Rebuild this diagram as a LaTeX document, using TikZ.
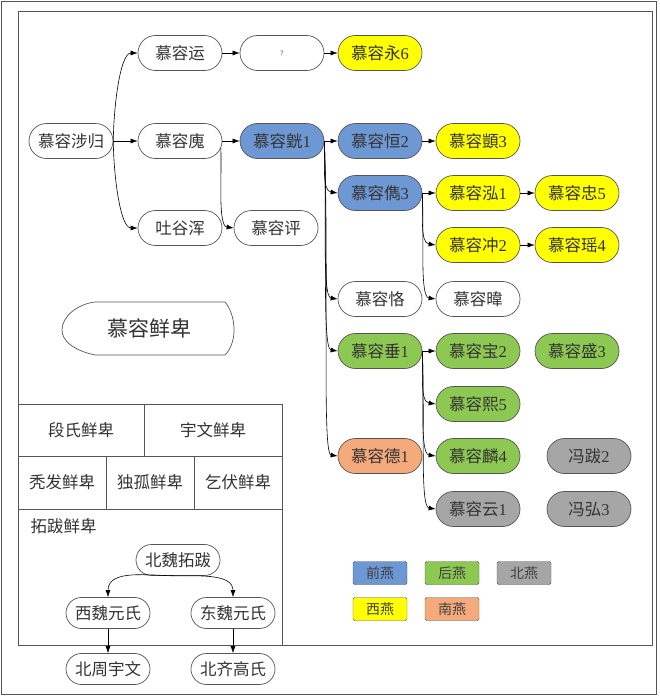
\documentclass[tikz,border=0pt]{standalone}
\usepackage{fontspec}
\setmainfont{Liberation Serif}
\newfontfamily\cjk{Noto Sans CJK SC}
\usetikzlibrary{shapes.misc,arrows.meta}
\definecolor{qianyan}{RGB}{110,152,212}
\definecolor{houyan}{RGB}{140,200,82}
\definecolor{beiyan}{RGB}{166,166,166}
\definecolor{xiyan}{RGB}{255,255,0}
\definecolor{nanyan}{RGB}{244,170,122}
\definecolor{bianxian}{RGB}{85,85,85}
\tikzset{
	ren/.style={rounded rectangle,draw=bianxian,line width=0.7pt,minimum width=88pt,minimum height=35pt,inner sep=2pt,text=black!80,font=\cjk\fontsize{16.5}{18}\selectfont},
	xiao/.style={ren,minimum height=31pt},
	biao/.style={text=black!80,font=\cjk\fontsize{16.5}{18}\selectfont},
	tuli/.style={draw=bianxian,rounded corners=1.5pt,minimum width=54pt,minimum height=23pt,inner sep=0pt,text=black!75,font=\cjk\fontsize{14}{16}\selectfont},
	jian/.style={-{Latex[length=7pt,width=5pt]},line width=0.6pt},
	gou/.style={jian,out=-88,in=172,out distance=#1,in distance=16pt}
}
\begin{document}
\begin{tikzpicture}[x=1pt,y=1pt]
				\useasboundingbox (0,0) rectangle (660,-696);
				\draw[bianxian,line width=0.8pt] (1.5,-1.5) rectangle (656,-694);
				\draw[bianxian,line width=0.8pt] (18,-11) rectangle (652,-645);
				\node[ren] (yun) at (180,-53) {慕容运};
				\node[ren,font=\rmfamily\fontsize{7}{8}\selectfont] (wenhao) at (282,-53) {?};
				\node[ren,fill=xiyan] (yong) at (380,-53) {慕容永{\rmfamily 6}};
				\node[ren] (shegui) at (71,-141) {慕容涉归};
				\node[ren] (wei) at (180,-141) {慕容廆};
				\node[ren,fill=qianyan] (huang) at (282,-141) {慕容皝{\rmfamily 1}};
				\node[ren,fill=qianyan] (heng) at (380,-141) {慕容恒{\rmfamily 2}};
				\node[ren,fill=xiyan] (yi) at (478,-141) {慕容顗{\rmfamily 3}};
				\node[ren] (tuyuhun) at (180,-228) {吐谷浑};
				\node[ren] (ping) at (276,-228) {慕容评};
				\node[ren,fill=qianyan] (jun) at (380,-193) {慕容儁{\rmfamily 3}};
				\node[ren,fill=xiyan] (hong) at (478,-193) {慕容泓{\rmfamily 1}};
				\node[ren,fill=xiyan] (zhong) at (577,-193) {慕容忠{\rmfamily 5}};
				\node[ren,fill=xiyan] (chong) at (478,-245) {慕容冲{\rmfamily 2}};
				\node[ren,fill=xiyan] (yao) at (577,-245) {慕容瑶{\rmfamily 4}};
				\node[ren] (ke) at (380,-299) {慕容恪};
				\node[ren] (wei2) at (478,-299) {慕容暐};
				\node[ren,fill=houyan] (chui) at (380,-351) {慕容垂{\rmfamily 1}};
				\node[ren,fill=houyan] (bao) at (478,-351) {慕容宝{\rmfamily 2}};
				\node[ren,fill=houyan] (sheng) at (577,-351) {慕容盛{\rmfamily 3}};
				\node[ren,fill=houyan] (xi) at (478,-404) {慕容熙{\rmfamily 5}};
				\node[ren,fill=nanyan] (de) at (380,-456) {慕容德{\rmfamily 1}};
				\node[ren,fill=houyan] (lin) at (478,-456) {慕容麟{\rmfamily 4}};
				\node[ren,fill=beiyan] (fengba) at (589,-456) {冯跋{\rmfamily 2}};
				\node[ren,fill=beiyan] (yun1) at (478,-509) {慕容云{\rmfamily 1}};
				\node[ren,fill=beiyan] (fenghong) at (589,-509) {冯弘{\rmfamily 3}};
				\draw[jian] (shegui.east) to[out=90,in=180,out distance=30pt,in distance=18pt] (yun.west);
				\draw[jian] (shegui.east) -- (wei.west);
				\draw[jian] (shegui.east) to[out=-90,in=180,out distance=30pt,in distance=18pt] (tuyuhun.west);
				\draw[jian] (yun.east) -- (wenhao.west);
				\draw[jian] (wenhao.east) -- (yong.west);
				\draw[jian] (wei.east) -- (huang.west);
				\draw[gou=30pt] (wei.-10) to (ping.west);
				\draw[jian] (huang.east) -- (heng.west);
				\draw[jian] (heng.east) -- (yi.west);
				\draw[gou=22pt] (huang.east) to (jun.west);
				\draw[gou=70pt] (huang.east) to (ke.west);
				\draw[gou=90pt] (huang.east) to (chui.west);
				\draw[gou=140pt] (huang.east) to (de.west);
				\draw[jian] (jun.east) -- (hong.west);
				\draw[jian] (hong.east) -- (zhong.west);
				\draw[gou=22pt] (jun.east) to (chong.west);
				\draw[gou=50pt] (jun.east) to (wei2.west);
				\draw[jian] (chong.east) -- (yao.west);
				\draw[jian] (chui.east) -- (bao.west);
				\draw[gou=22pt] (chui.east) to (xi.west);
				\draw[gou=50pt] (chui.east) to (lin.west);
				\draw[gou=75pt] (chui.east) to (yun1.west);
				\draw[bianxian,line width=0.7pt] (95,-302) -- (225,-302) .. controls (236,-315) and (238,-342) .. (225,-355) -- (95,-355) .. controls (72,-350) and (62,-340) .. (62,-330) .. controls (62,-316) and (78,-304) .. (95,-302) -- cycle;
				\node[biao,font=\cjk\fontsize{21}{24}\selectfont] (xianbei) at (149,-328) {慕容鲜卑};
				\draw[bianxian,line width=0.7pt] (18,-404) -- (282,-404) -- (282,-645);
				\draw[bianxian,line width=0.7pt] (18,-456) -- (282,-456);
				\draw[bianxian,line width=0.7pt] (18,-509) -- (282,-509);
				\draw[bianxian,line width=0.7pt] (144,-404) -- (144,-456);
				\draw[bianxian,line width=0.7pt] (106,-456) -- (106,-509);
				\draw[bianxian,line width=0.7pt] (194,-456) -- (194,-509);
				\node[biao] (duanshi) at (81,-430) {段氏鲜卑};
				\node[biao] (yuwen) at (213,-430) {宇文鲜卑};
				\node[biao] (tufa) at (62,-482) {秃发鲜卑};
				\node[biao] (dugu) at (150,-482) {独孤鲜卑};
				\node[biao] (qifu) at (238,-482) {乞伏鲜卑};
				\node[biao,anchor=west] (tuoba) at (27,-526) {拓跋鲜卑};
				\node[xiao] (beiwei) at (178,-560) {北魏拓跋};
				\node[xiao] (xiwei) at (108,-613) {西魏元氏};
				\node[xiao] (dongwei) at (233,-613) {东魏元氏};
				\node[xiao] (beizhou) at (108,-669) {北周宇文};
				\node[xiao] (beiqi) at (233,-669) {北齐高氏};
				\draw[jian] (beiwei.south) to[out=180,in=90] (xiwei.north);
				\draw[jian] (beiwei.south) to[out=0,in=90] (dongwei.north);
				\draw[jian] (xiwei.south) -- (beizhou.north);
				\draw[jian] (dongwei.south) -- (beiqi.north);
				\node[tuli,fill=qianyan] (qianyanli) at (380,-573) {前燕};
				\node[tuli,fill=houyan] (houyanli) at (452,-573) {后燕};
				\node[tuli,fill=beiyan] (beiyanli) at (524,-573) {北燕};
				\node[tuli,fill=xiyan] (xiyanli) at (380,-609) {西燕};
				\node[tuli,fill=nanyan] (nanyanli) at (452,-609) {南燕};
			\end{tikzpicture}
\end{document}
